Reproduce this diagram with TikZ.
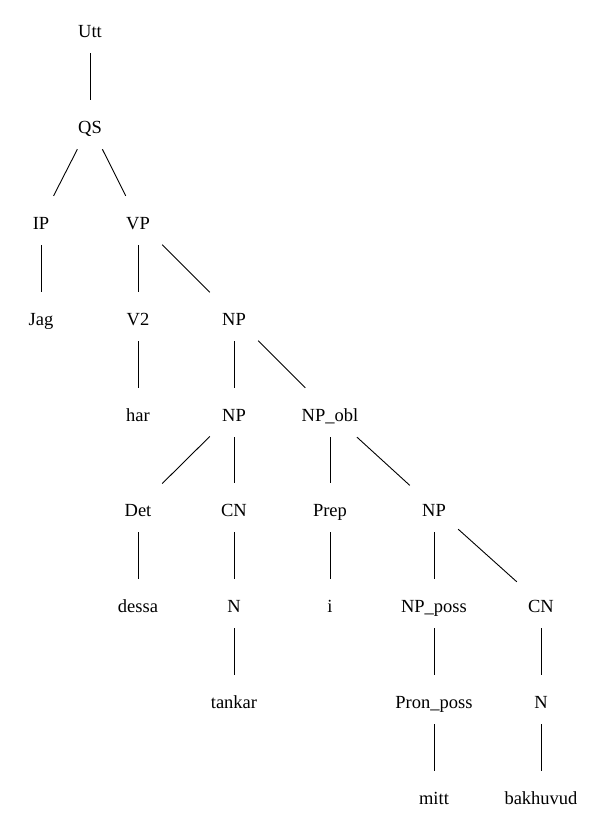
\documentclass[tikz,border=0pt]{standalone}
\usepackage{fontspec}
\setmainfont{Liberation Serif}
\tikzset{
  lab/.style={anchor=base, inner sep=0pt, text height=33pt, text depth=16pt, minimum width=48pt, font=\fontsize{18.5}{22}\selectfont},
  edge/.style={line width=0.9pt}
}
\begin{document}
\begin{tikzpicture}[x=1pt,y=-1pt]
\useasboundingbox (0,0) rectangle (596,827);
\node[lab] (utt) at (90,37) {Utt};
\node[lab] (qs) at (90,133) {QS};
\node[lab] (ip) at (41,229) {IP};
\node[lab] (vp) at (138,229) {VP};
\node[lab] (jag) at (41,325) {Jag};
\node[lab] (v2) at (138,325) {V2};
\node[lab] (np1) at (234,325) {NP};
\node[lab] (har) at (138,421) {har};
\node[lab] (np2) at (234,421) {NP};
\node[lab] (npobl) at (330,421) {NP\_obl};
\node[lab] (det) at (138,516) {Det};
\node[lab] (cn1) at (234,516) {CN};
\node[lab] (prep) at (330,516) {Prep};
\node[lab] (np3) at (434,516) {NP};
\node[lab] (dessa) at (138,612) {dessa};
\node[lab] (n1) at (234,612) {N};
\node[lab] (i) at (330,612) {i};
\node[lab] (npposs) at (434,612) {NP\_poss};
\node[lab] (cn2) at (541,612) {CN};
\node[lab] (tankar) at (234,708) {tankar};
\node[lab] (pronposs) at (434,708) {Pron\_poss};
\node[lab] (n2) at (541,708) {N};
\node[lab] (mitt) at (434,804) {mitt};
\node[lab] (bakhuvud) at (541,804) {bakhuvud};
\foreach \a/\b in {utt/qs, qs/ip, qs/vp, ip/jag, vp/v2, vp/np1, v2/har, np1/np2, np1/npobl,
  np2/det, np2/cn1, npobl/prep, npobl/np3, det/dessa, cn1/n1, prep/i, np3/npposs, np3/cn2,
  n1/tankar, npposs/pronposs, cn2/n2, pronposs/mitt, n2/bakhuvud}
  \draw[edge] (\a) -- (\b);
\end{tikzpicture}
\end{document}
